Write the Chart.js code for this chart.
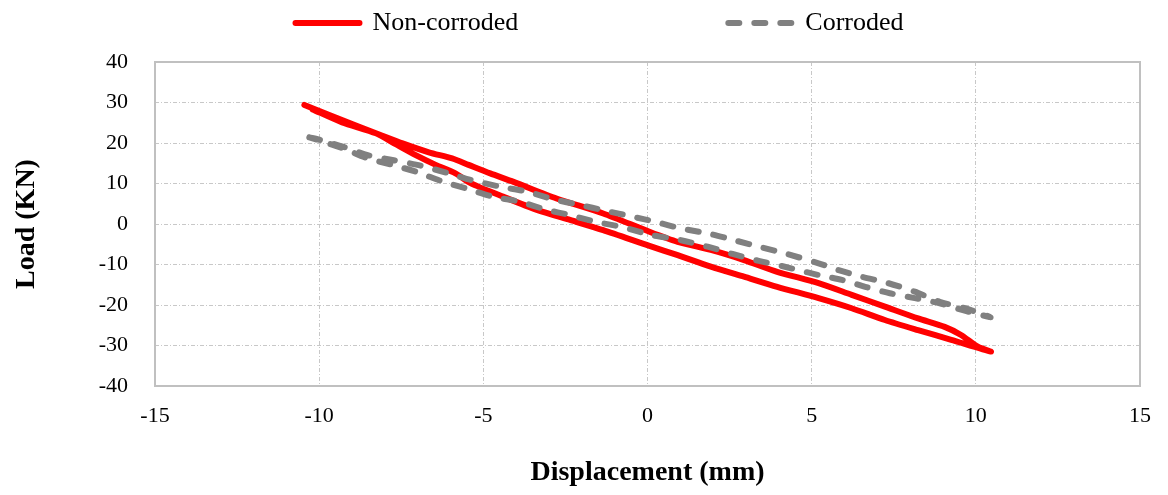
<!DOCTYPE html>
<html>
<head>
<meta charset="utf-8">
<script src="https://cdn.jsdelivr.net/npm/chart.js@4.4.1/dist/chart.umd.min.js"></script>
<style>
  html, body { margin: 0; padding: 0; background: #fff; }
</style>
</head>
<body>
<canvas id="myChart" width="1168" height="495"></canvas>
<script>
// hysteresis loops: upper branch left->right, then lower branch back
const nonCorrodedX = [-10.45, -9.69, -8.88, -8.17, -7.46, -6.66, -5.95, -5.45, -4.79, -4.08, -2.77, -1.35, 0.06, 0.92, 1.93, 2.94, 3.95, 5.21, 6.22, 7.23, 8.24, 9.05, 9.55, 10.06, 10.46,
  9.25, 8.24, 7.23, 6.22, 5.21, 3.95, 2.94, 1.93, 0.92, 0.06, -1.35, -2.36, -3.37, -4.38, -5.39, -5.85, -6.45, -7.06, -7.67, -8.27, -9.3, -10.2];
const nonCorrodedY = [29.4, 26.9, 24.3, 22.1, 19.9, 17.7, 16.2, 14.6, 12.5, 10.4, 6.3, 2.6, -1.9, -4.4, -6.4, -8.9, -11.8, -14.6, -17.5, -20.4, -23.3, -25.4, -27.4, -30.3, -31.5,
  -28.6, -26.2, -23.7, -20.8, -18.3, -15.5, -13.0, -10.5, -7.7, -5.4, -1.5, 1.0, 3.5, 6.7, 10.1, 12.5, 14.6, 17.0, 19.7, 22.4, 25.1, 28.3];

const corrodedX = [-10.3, -9.99, -9.28, -8.52, -7.77, -6.91, -6.05, -5.39, -4.48, -3.68, -2.87, -2.06, -1.3, -0.45, 0.21, 1.02, 1.93, 2.69, 3.49, 4.25, 5.21, 5.82, 6.52, 7.33, 8.14, 8.9, 9.66, 10.45,
  9.66, 8.9, 8.14, 7.38, 6.63, 5.92, 5.21, 4.15, 3.39, 2.59, 1.83, 1.02, 0.11, -0.75, -1.61, -2.36, -3.12, -3.88, -4.69, -5.45, -6.25, -7.01, -7.77, -8.52, -9.28, -10.3];
const corrodedY = [21.4, 20.8, 19.1, 17.0, 15.8, 14.4, 12.5, 10.9, 9.2, 8.0, 6.1, 4.7, 3.3, 1.8, 0.6, -1.1, -2.5, -4.1, -5.8, -7.4, -9.7, -11.4, -13.0, -14.6, -16.7, -19.2, -20.8, -23.0,
  -21.4, -19.6, -18.3, -17.1, -15.5, -13.8, -12.6, -10.5, -9.1, -7.4, -5.6, -4.0, -2.7, -0.8, 0.6, 2.2, 3.6, 5.5, 6.7, 8.6, 10.5, 12.8, 14.6, 16.2, 18.7, 21.4];

const seriesNames = ["Non-corroded", "Corroded"];
const xLimits = [-15, 15];
const yLimits = [-40, 40];

const toPoints = (xs, ys) => xs.map((x, i) => ({ x: x, y: ys[i] }));

const SERIF = "'Liberation Serif', 'Times New Roman', serif";
Chart.defaults.font.family = SERIF;
Chart.defaults.color = "#000";

const LEGEND_GAP = 210;

// legend spacing like the excel one + plot frame on all 4 sides
const frameAndLegend = {
  id: "frameAndLegend",
  afterLayout(chart) {
    const lg = chart.legend;
    lg.top = 10 - LEGEND_GAP;
    lg.left += 28;
    lg.right += 28;
  },
  beforeDatasetsDraw(chart) {
    const a = chart.chartArea;
    const ctx = chart.ctx;
    ctx.save();
    ctx.strokeStyle = "#c0c0c0";
    ctx.lineWidth = 2;
    ctx.strokeRect(a.left, a.top, a.right - a.left, a.bottom - a.top);
    ctx.restore();
  }
};

new Chart("myChart", {
  type: "scatter",
  data: {
    datasets: [{
      label: seriesNames[0],
      data: toPoints(nonCorrodedX, nonCorrodedY),
      showLine: true,
      borderColor: "#ff0000",
      backgroundColor: "#ff0000",
      borderWidth: 6,
      borderCapStyle: "round",
      borderJoinStyle: "round",
      pointRadius: 0,
      tension: 0.25,
      order: 1
    }, {
      label: seriesNames[1],
      data: toPoints(corrodedX, corrodedY),
      showLine: true,
      borderColor: "#808080",
      backgroundColor: "#808080",
      borderWidth: 6,
      borderDash: [11, 15],
      borderCapStyle: "round",
      borderJoinStyle: "round",
      pointRadius: 0,
      tension: 0.25,
      order: 0
    }]
  },
  options: {
    responsive: false,
    animation: false,
    layout: { padding: { right: 25 } },
    plugins: {
      legend: {
        position: "top",
        maxHeight: 62,
        labels: {
          usePointStyle: true,
          pointStyle: "line",
          pointStyleWidth: 64,
          padding: LEGEND_GAP,
          font: { size: 26 },
          color: "#000",
          sort: (a, b) => a.datasetIndex - b.datasetIndex,
          generateLabels: chart => {
            const items = Chart.defaults.plugins.legend.labels.generateLabels(chart);
            items.forEach(it => {
              const ds = chart.data.datasets[it.datasetIndex];
              it.lineDash = ds.borderDash || [];
              it.lineCap = "round";
              it.lineWidth = ds.borderWidth;
              it.strokeStyle = ds.borderColor;
            });
            return items;
          }
        }
      },
      tooltip: { enabled: false }
    },
    scales: {
      x: {
        type: "linear",
        min: xLimits[0],
        max: xLimits[1],
        afterFit: s => { s.height = 109; },
        ticks: { stepSize: 5, padding: 17, font: { size: 22 }, color: "#000" },
        grid: { color: "#c8c8c8", lineWidth: 1, drawTicks: false },
        border: { display: false, dash: [4, 2, 1, 2] },
        title: {
          display: true,
          text: "Displacement (mm)",
          font: { size: 28, weight: "bold" },
          color: "#000",
          padding: { top: 28, bottom: 5 }
        }
      },
      y: {
        type: "linear",
        min: yLimits[0],
        max: yLimits[1],
        afterFit: s => { s.width = 155; },
        ticks: { stepSize: 10, padding: 27, font: { size: 22 }, color: "#000" },
        grid: { color: "#c8c8c8", lineWidth: 1, drawTicks: false },
        border: { display: false, dash: [4, 2, 1, 2] },
        title: {
          display: true,
          text: "Load (KN)",
          font: { size: 28, weight: "bold" },
          color: "#000",
          padding: { top: 10, bottom: 10 }
        }
      }
    }
  },
  plugins: [frameAndLegend]
});
</script>
</body>
</html>
